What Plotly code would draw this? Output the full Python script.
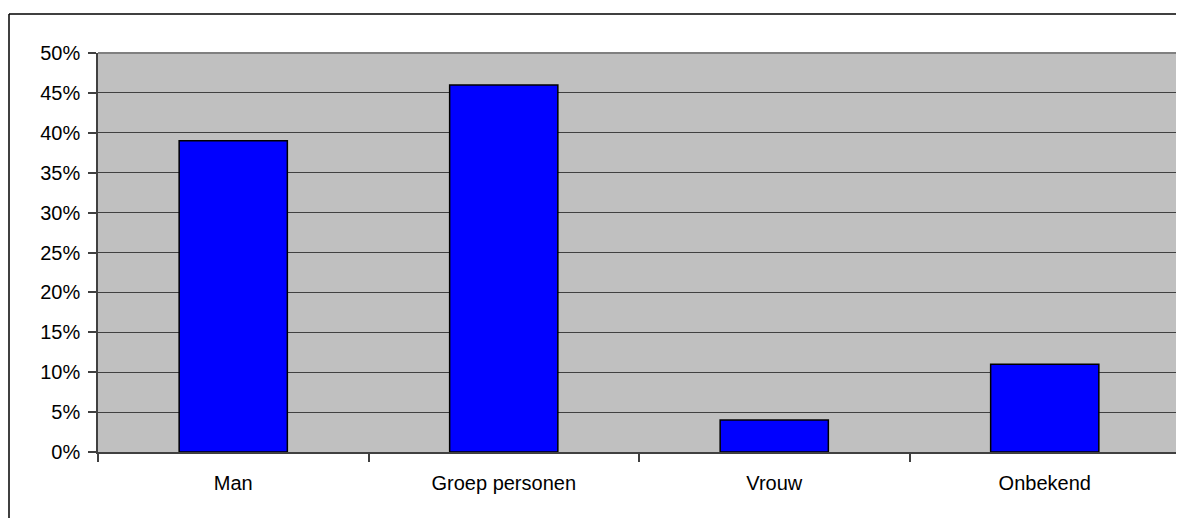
import plotly.graph_objects as go

categories = ["Man", "Groep personen", "Vrouw", "Onbekend"]
values = [0.39, 0.46, 0.04, 0.11]
y_ticks = [0, 0.05, 0.10, 0.15, 0.20, 0.25, 0.30, 0.35, 0.40, 0.45, 0.50]
y_tick_labels = ["0%", "5%", "10%", "15%", "20%", "25%", "30%", "35%", "40%", "45%", "50%"]

# page has an 8px body margin, so the figure is placed at (8, 8)
OFF = 8
W, H = 1184 - OFF, 518 - OFF
ml, mr, mt, mb = 98 - OFF, 4, 53 - OFF, 66
pw, ph = W - ml - mr, H - mt - mb

def px(x):
    return (x - OFF - ml) / pw

def py(y):
    return (H - mb - (y - OFF)) / ph

fig = go.Figure(
    go.Bar(
        x=categories,
        y=values,
        width=0.4,
        marker=dict(color="#0000FF", line=dict(color="#000000", width=1.5)),
    )
)

fig.update_layout(
    width=W,
    height=H,
    margin=dict(l=ml, r=mr, t=mt, b=mb),
    paper_bgcolor="#FFFFFF",
    plot_bgcolor="#C0C0C0",
    showlegend=False,
    font=dict(family="Liberation Sans, Arial, sans-serif", size=20, color="#000000"),
    shapes=[
        dict(type="line", xref="paper", yref="paper", x0=0, x1=1, y0=1, y1=1,
             line=dict(color="#808080", width=2)),
        dict(type="line", xref="paper", yref="paper", x0=1, x1=1, y0=0, y1=1,
             line=dict(color="#808080", width=2)),
        dict(type="line", xref="paper", yref="paper", x0=px(9), x1=px(9), y0=py(530), y1=py(14),
             line=dict(color="#000000", width=1.5)),
        dict(type="line", xref="paper", yref="paper", x0=px(9), x1=px(1200), y0=py(14), y1=py(14),
             line=dict(color="#000000", width=1.5)),
    ],
)

fig.update_xaxes(
    type="category",
    tickson="boundaries",
    ticks="outside",
    ticklen=8,
    tickcolor="#404040",
    tickwidth=1.5,
    showline=True,
    linecolor="#404040",
    linewidth=1.5,
    showgrid=False,
    tickfont=dict(size=20),
    ticklabelstandoff=12,
)

fig.update_yaxes(
    range=[0, 0.5],
    tickvals=y_ticks,
    ticktext=y_tick_labels,
    ticks="outside",
    ticklen=8,
    tickcolor="#404040",
    tickwidth=1.5,
    showline=True,
    linecolor="#404040",
    linewidth=1.5,
    showgrid=True,
    gridcolor="#404040",
    gridwidth=1,
    zeroline=False,
    tickfont=dict(size=20),
    ticklabelstandoff=4,
)

fig.write_html("out.html")
